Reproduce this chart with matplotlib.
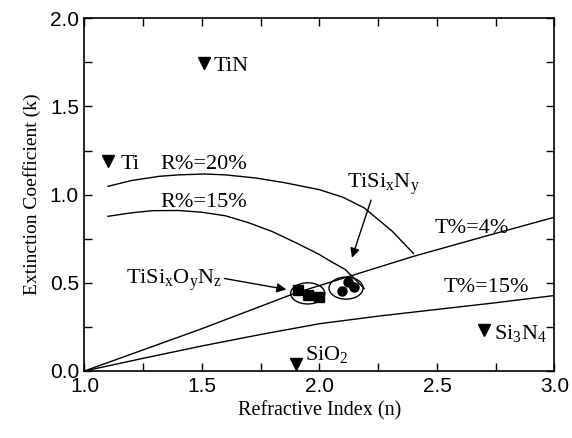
import matplotlib
matplotlib.use("Agg")
import matplotlib.pyplot as plt
from matplotlib.patches import Ellipse
from matplotlib.ticker import MultipleLocator

plt.rcParams['mathtext.fontset'] = 'custom'
plt.rcParams['mathtext.rm'] = 'Liberation Serif'
plt.rcParams['mathtext.it'] = 'Liberation Serif:italic'

# constant-R and constant-T curves
r20_n = [1.10, 1.20, 1.32, 1.40, 1.51, 1.60, 1.73, 1.85, 2.00, 2.10, 2.19, 2.31, 2.40]
r20_k = [1.047, 1.080, 1.104, 1.112, 1.117, 1.112, 1.094, 1.068, 1.028, 0.985, 0.925, 0.792, 0.666]
r15_n = [1.10, 1.20, 1.29, 1.40, 1.50, 1.60, 1.70, 1.80, 1.90, 2.00, 2.05, 2.11, 2.19]
r15_k = [0.877, 0.897, 0.909, 0.910, 0.900, 0.880, 0.840, 0.790, 0.727, 0.660, 0.620, 0.575, 0.468]
t4_n = [1.0, 1.5, 1.9, 2.13, 2.4, 2.7, 3.0]
t4_k = [0.0, 0.24, 0.443, 0.538, 0.650, 0.762, 0.872]
t15_n = [1.0, 1.25, 1.5, 1.75, 2.0, 2.25, 2.5, 2.75, 3.0]
t15_k = [0.0, 0.072, 0.142, 0.207, 0.268, 0.311, 0.349, 0.387, 0.428]

# reference materials
ref_names = ['Ti', 'TiN', 'SiO$_2$', 'Si$_3$N$_4$']
ref_n = [1.10, 1.51, 1.90, 2.70]
ref_k = [1.19, 1.745, 0.04, 0.23]

# films
tison_n = [1.91, 1.95, 2.00]
tison_k = [0.460, 0.430, 0.420]
tisin_n = [2.095, 2.122, 2.147]
tisin_k = [0.455, 0.506, 0.478]

# ellipses around the two groups: centre n, centre k, width, height
ell_n = [1.95, 2.113]
ell_k = [0.440, 0.470]
ell_w = [0.145, 0.145]
ell_h = [0.12, 0.125]

serif = 'Liberation Serif'
fig = plt.figure(figsize=(5.72, 4.38), dpi=100)
ax = fig.add_axes([0.1477, 0.153, 0.8217, 0.8053])

lw = 1.0
ax.plot(r20_n, r20_k, color='black', lw=lw)
ax.plot(r15_n, r15_k, color='black', lw=lw)
ax.plot(t4_n, t4_k, color='black', lw=lw)
ax.plot(t15_n, t15_k, color='black', lw=lw)

ax.plot(ref_n, ref_k, 'v', color='black', ms=8, ls='none')
ax.plot(tison_n, tison_k, 's', color='black', ms=6.5, ls='none')
ax.plot(tisin_n, tisin_k, 'o', color='black', ms=6.5, ls='none')

for i in range(len(ell_n)):
    ax.add_patch(Ellipse((ell_n[i], ell_k[i]), ell_w[i], ell_h[i],
                         fill=False, ec='black', lw=1.0))

fs = 16
ax.text(1.152, 1.17, 'Ti', family=serif, fontsize=fs, va='center')
ax.text(1.548, 1.726, 'TiN', family=serif, fontsize=fs, va='center')
ax.text(1.94, 0.095, 'SiO$_2$', family=serif, fontsize=fs, va='center')
ax.text(2.744, 0.215, 'Si$_3$N$_4$', family=serif, fontsize=fs, va='center')
ax.text(1.323, 1.17, 'R%=20%', family=serif, fontsize=fs, va='center')
ax.text(1.323, 0.953, 'R%=15%', family=serif, fontsize=fs, va='center')
ax.text(2.488, 0.806, 'T%=4%', family=serif, fontsize=fs, va='center')
ax.text(2.526, 0.475, 'T%=15%', family=serif, fontsize=fs, va='center')

ax.annotate('TiSi$_{\\rm x}$N$_{\\rm y}$', xy=(2.138, 0.642), xytext=(2.115, 1.057),
            family=serif, fontsize=fs, va='center',
            arrowprops=dict(arrowstyle='-|>', color='black', lw=1.0,
                            shrinkA=0, shrinkB=0, mutation_scale=14,
                            relpos=(0.35, 0.0)))
ax.annotate('TiSi$_{\\rm x}$O$_{\\rm y}$N$_{\\rm z}$', xy=(1.859, 0.462), xytext=(1.175, 0.513),
            family=serif, fontsize=fs, va='center',
            arrowprops=dict(arrowstyle='-|>', color='black', lw=1.0,
                            shrinkA=0, shrinkB=0, mutation_scale=14,
                            relpos=(1.0, 0.6)))

ax.set_xlim(1.0, 3.0)
ax.set_ylim(0.0, 2.0)
ax.xaxis.set_major_locator(MultipleLocator(0.5))
ax.xaxis.set_minor_locator(MultipleLocator(0.25))
ax.yaxis.set_major_locator(MultipleLocator(0.5))
ax.yaxis.set_minor_locator(MultipleLocator(0.25))
ax.tick_params(which='both', direction='in', top=True, right=True,
               length=6, width=1.0)
ax.tick_params(labelsize=15, pad=4)
for lab in ax.get_xticklabels() + ax.get_yticklabels():
    lab.set_family('Liberation Sans')
for s in ax.spines.values():
    s.set_linewidth(1.2)

ax.set_xlabel('Refractive Index (n)', family=serif, fontsize=14.5, labelpad=4)
ax.set_ylabel('Extinction Coefficient (k)', family=serif, fontsize=14, labelpad=6)

fig.savefig('out.png', dpi=100)
